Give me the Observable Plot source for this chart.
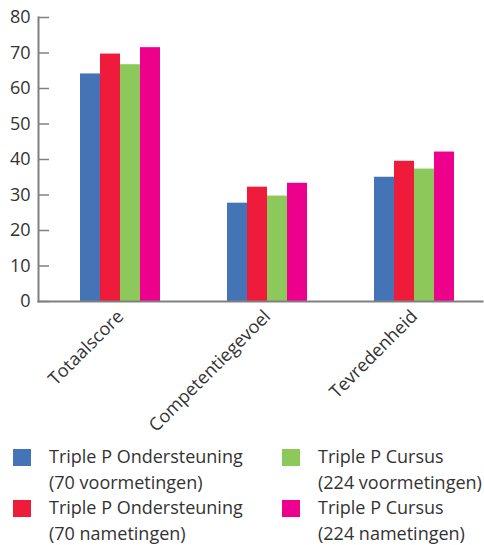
<!DOCTYPE html>
<html>
<head>
<meta charset="utf-8">
<script src="https://cdn.jsdelivr.net/npm/d3@7"></script>
<script src="https://cdn.jsdelivr.net/npm/@observablehq/plot@0.6"></script>
<style>
  html, body { margin: 0; padding: 0; background: #fff; }
  #wrap { position: relative; width: 484px; height: 545px; overflow: hidden; font-family: "Open Sans", sans-serif; color: #333; }
  #legend { position: absolute; left: 13px; top: 443px; display: grid; grid-template-columns: 269px 220px; grid-auto-rows: 51px; }
  .item { display: flex; align-items: flex-start; font-size: 18px; line-height: 26px; white-space: nowrap; }
  .sw { width: 18px; height: 17px; margin-top: 6px; margin-right: 18px; flex: none; }
</style>
</head>
<body>
<div id="wrap">
  <div id="chart"></div>
  <div id="legend"></div>
</div>
<script>
const categories = ["Totaalscore", "Competentiegevoel", "Tevredenheid"];
const seriesNames = [
  "Triple P Ondersteuning (70 voormetingen)",
  "Triple P Ondersteuning (70 nametingen)",
  "Triple P Cursus (224 voormetingen)",
  "Triple P Cursus (224 nametingen)"
];
const legendLines = [
  ["Triple P Ondersteuning", "(70 voormetingen)"],
  ["Triple P Ondersteuning", "(70 nametingen)"],
  ["Triple P Cursus", "(224 voormetingen)"],
  ["Triple P Cursus", "(224 nametingen)"]
];
const ondersteuningVoor = [64.1, 27.7, 35.0];
const ondersteuningNa   = [69.7, 32.2, 39.5];
const cursusVoor        = [66.7, 29.7, 37.3];
const cursusNa          = [71.5, 33.3, 42.1];
const yTicks = [0, 10, 20, 30, 40, 50, 60, 70, 80];
const colors = ["#4474b5", "#ee1c3a", "#8cc85a", "#ec008c"];

const seriesValues = [ondersteuningVoor, ondersteuningNa, cursusVoor, cursusNa];
const data = [];
categories.forEach((c, i) => {
  seriesNames.forEach((s, j) => data.push({category: c, series: s, value: seriesValues[j][i]}));
});

const plot = Plot.plot({
  width: 484,
  height: 442,
  marginLeft: 79,
  marginRight: 30,
  marginTop: 17,
  marginBottom: 141,
  style: {fontFamily: "'Open Sans', sans-serif", fontSize: "18px", color: "#333", background: "#fff", overflow: "visible"},
  fx: {domain: categories, paddingInner: 0.4576, paddingOuter: 0, label: null},
  x: {domain: seriesNames, padding: 0, axis: null},
  y: {domain: [0, 80], label: null},
  color: {domain: seriesNames, range: colors},
  marks: [
    Plot.barY(data, {fx: "category", x: "series", y: "value", fill: "series"}),
    Plot.frame({anchor: "left", facet: "super", stroke: "#808080", strokeWidth: 2, dx: -42}),
    Plot.frame({anchor: "bottom", facet: "super", stroke: "#808080", strokeWidth: 2, insetLeft: -42, insetRight: -28}),
    Plot.axisY({ticks: yTicks, tickSize: -11, tickPadding: 19, dx: -42, stroke: "#808080", strokeWidth: 1.5, fill: "#333", fontSize: 18, label: null}),
    Plot.axisFx({anchor: "bottom", tickRotate: -45, tickSize: 0, tickPadding: 12, fontSize: 18, fill: "#333", label: null})
  ]
});
document.getElementById("chart").appendChild(plot);

const legend = document.getElementById("legend");
[0, 2, 1, 3].forEach(j => {
  const item = document.createElement("div");
  item.className = "item";
  const sw = document.createElement("div");
  sw.className = "sw";
  sw.style.background = colors[j];
  const tx = document.createElement("div");
  tx.innerHTML = legendLines[j].join("<br>");
  item.appendChild(sw);
  item.appendChild(tx);
  legend.appendChild(item);
});
</script>
</body>
</html>
